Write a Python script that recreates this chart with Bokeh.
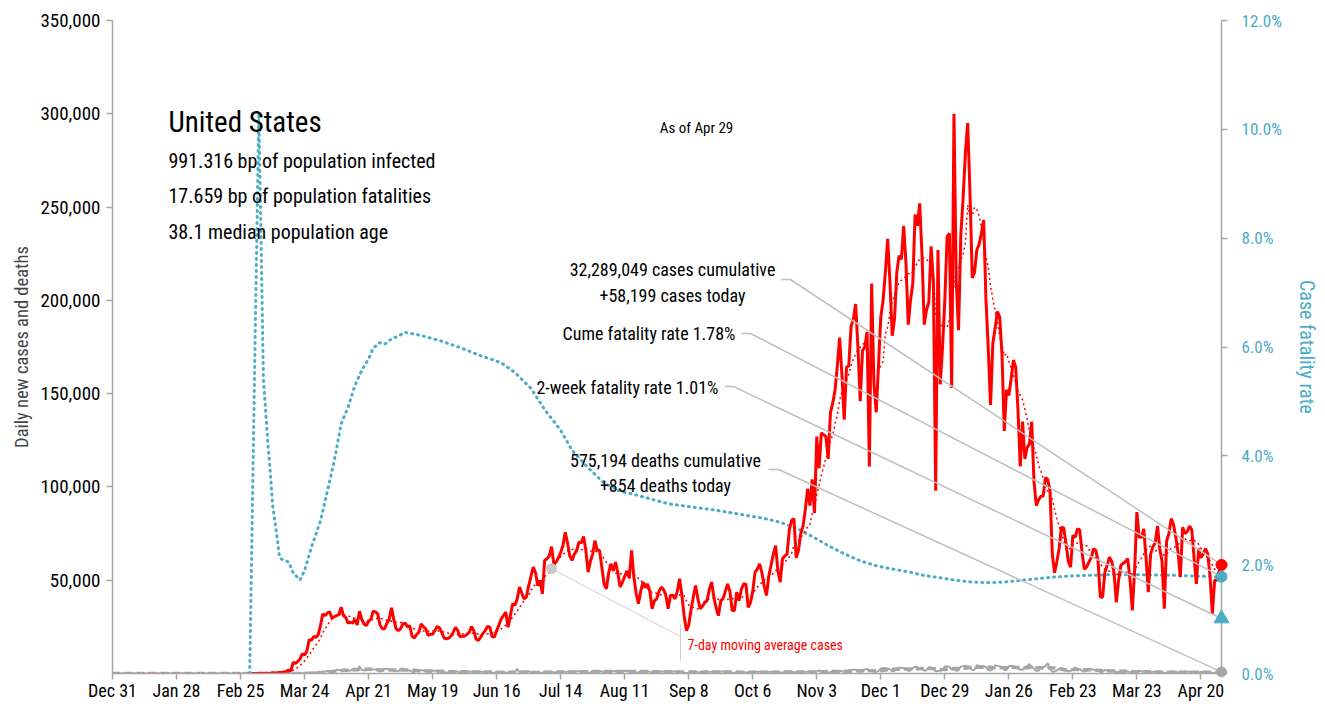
import pandas as pd
from bokeh.plotting import figure
from bokeh.models import Range1d, LinearAxis, FixedTicker, Label
from bokeh.embed import file_html
from bokeh.resources import INLINE

# ---------------- data ----------------
series_start = "2019-12-31"          # each row = 7 days, Tue..Mon
cases_rows = [
    [0, 0, 0, 0, 0, 0, 0], [0, 0, 0, 0, 0, 0, 0], [0, 0, 0, 0, 0, 0, 0],
    [0, 1, 0, 1, 0, 3, 0], [0, 0, 1, 0, 1, 0, 3], [0, 0, 0, 0, 0, 0, 0],
    [0, 1, 0, 1, 0, 0, 0], [0, 0, 0, 2, 0, 0, 0], [0, 1, 0, 0, 8, 6, 23],
    [20, 31, 68, 45, 140, 116, 65],
    [376, 322, 382, 516, 548, 772, 1133],
    [1789, 1362, 5894, 5423, 6389, 7787, 10571],
    [9893, 12038, 18058, 17821, 19821, 19408, 20922],
    [26000, 32000, 31000, 32500, 33000, 29500, 30500],
    [31000, 31500, 35500, 31000, 30000, 27000, 27500],
    [27000, 29000, 26000, 33400, 29000, 26500, 25700],
    [28000, 29000, 33400, 33000, 32000, 26000, 24000],
    [24000, 27000, 29000, 35200, 29000, 24000, 23000],
    [24000, 26600, 27000, 25000, 25500, 20000, 19000],
    [21000, 22000, 26600, 25000, 24000, 20400, 21000],
    [21000, 23000, 25200, 24500, 22000, 19000, 18600],
    [19000, 20000, 22000, 24800, 23000, 19600, 20000],
    [20000, 21000, 22000, 25200, 23000, 18500, 17700],
    [19500, 21500, 23000, 25200, 25000, 19800, 19500],
    [23000, 26000, 29300, 31000, 32900, 24800, 31000],
    [37400, 36600, 40000, 46300, 43000, 40000, 41000],
    [47000, 52000, 57000, 54000, 47000, 50000, 42700],
    [60600, 61500, 63000, 68000, 58800, 59700, 62000],
    [65000, 68600, 75700, 70000, 63000, 60600, 64000],
    [66000, 70400, 70000, 73400, 66000, 54300, 60000],
    [64000, 71300, 66000, 66000, 57000, 48000, 45400],
    [54000, 58800, 55000, 59700, 54000, 46300, 49000],
    [52000, 55000, 51000, 66000, 51800, 43000, 37400],
    [44000, 49000, 46000, 48000, 44000, 34700, 39000],
    [40000, 44000, 46300, 45000, 42000, 34700, 41800],
    [42000, 40000, 44000, 50800, 42000, 31000, 23000],
    [26000, 34000, 41000, 47200, 40000, 34700, 36000],
    [38000, 39000, 45000, 49000, 41000, 35000, 31000],
    [39000, 40000, 44000, 48000, 44000, 33800, 33800],
    [43600, 39000, 45000, 48000, 48000, 35500, 38000],
    [44000, 54300, 56000, 58800, 54000, 47000, 41800],
    [52000, 58000, 64000, 68600, 55000, 49000, 61500],
    [63000, 64000, 77000, 82000, 83000, 62000, 66000],
    [75000, 79000, 88000, 99000, 90000, 104000, 86000],
    [127000, 110000, 129000, 128000, 127000, 115000, 140000],
    [145000, 152000, 165000, 180000, 160000, 136000, 164000],
    [165000, 186000, 190000, 198000, 175000, 146000, 173000],
    [175000, 183000, 111000, 209000, 155000, 140000, 165000],
    [191000, 200000, 215000, 233000, 210000, 181000, 190000],
    [215000, 224000, 222000, 240000, 220000, 187000, 200000],
    [209000, 246000, 240000, 252000, 225000, 187000, 195000],
    [199000, 229000, 210000, 98000, 227000, 155000, 175000],
    [200000, 234000, 236000, 153000, 300000, 210000, 184000],
    [235000, 255000, 279000, 295000, 258000, 212000, 215000],
    [227000, 230000, 236000, 243000, 200000, 174000, 144000],
    [177000, 185000, 194000, 191000, 171000, 130000, 152000],
    [149000, 158000, 168000, 164000, 141000, 111000, 135000],
    [115000, 121000, 123000, 135000, 103000, 90000, 93000],
    [95000, 95000, 105000, 104000, 98000, 64000, 54000],
    [60000, 67000, 78400, 78000, 69500, 60000, 57000],
    [74000, 73000, 77500, 77000, 65000, 56000, 57000],
    [59700, 62000, 66800, 66000, 60600, 41000, 40900],
    [54300, 58000, 62400, 60000, 54000, 38200, 50000],
    [58000, 59000, 60000, 61500, 50000, 33800, 55000],
    [86500, 73000, 73000, 77500, 62000, 43600, 64000],
    [68000, 70000, 79000, 67000, 60000, 34700, 71000],
    [75000, 83000, 80000, 73000, 65000, 51600, 78400],
    [75000, 76000, 79000, 77000, 62000, 48000, 67000],
    [62000, 64000, 67000, 64000, 52000, 32000, 50000],
    [50000, 55000, 58199],
]
deaths_rows = [
    [0, 0, 0, 0, 0, 0, 0], [0, 0, 0, 0, 0, 0, 0], [0, 0, 0, 0, 0, 0, 0],
    [0, 0, 0, 0, 0, 0, 0], [0, 0, 0, 0, 0, 0, 0], [0, 0, 0, 0, 0, 0, 0],
    [0, 0, 0, 0, 0, 0, 0], [0, 0, 0, 0, 0, 0, 0], [0, 0, 0, 0, 1, 0, 5],
    [1, 4, 1, 2, 3, 2, 4],
    [6, 8, 7, 11, 8, 13, 19],
    [23, 40, 51, 61, 77, 111, 133],
    [198, 245, 278, 396, 523, 479, 563],
    [864, 968, 1140, 1319, 1226, 1298, 1172],
    [2008, 1884, 1901, 2089, 1885, 1549, 1534],
    [2304, 2530, 2171, 3800, 1894, 1735, 1580],
    [2676, 2318, 2211, 2080, 1823, 1121, 1348],
    [2404, 2610, 2029, 1912, 1696, 1290, 1178],
    [2375, 2646, 1952, 1733, 1596, 998, 842],
    [1663, 1763, 1770, 1614, 1264, 796, 850],
    [1602, 1493, 1296, 1221, 1068, 617, 568],
    [702, 1492, 1202, 1188, 926, 603, 731],
    [1053, 1003, 1024, 893, 679, 358, 622],
    [1003, 915, 848, 776, 701, 322, 385],
    [826, 770, 677, 714, 599, 277, 384],
    [811, 793, 2451, 646, 523, 275, 358],
    [1264, 690, 659, 258, 279, 257, 374],
    [1134, 1015, 1022, 829, 731, 468, 401],
    [924, 991, 980, 918, 918, 483, 537],
    [1141, 1206, 1123, 1172, 1032, 459, 534],
    [1442, 1453, 1395, 1287, 1077, 441, 568],
    [1349, 1343, 1256, 1315, 1118, 526, 536],
    [1499, 1370, 1096, 1278, 1047, 496, 467],
    [1338, 1362, 1121, 1135, 955, 476, 460],
    [1200, 1161, 1107, 1023, 862, 351, 451],
    [1095, 1038, 1047, 960, 707, 355, 266],
    [420, 1148, 948, 1163, 712, 370, 394],
    [1226, 1049, 872, 904, 738, 260, 455],
    [1104, 1083, 877, 890, 713, 280, 352],
    [907, 905, 851, 750, 688, 354, 436],
    [725, 919, 935, 952, 662, 375, 428],
    [805, 999, 869, 939, 740, 398, 470],
    [943, 1144, 847, 951, 830, 443, 525],
    [1008, 1055, 1001, 1002, 923, 431, 541],
    [1128, 1591, 1165, 1256, 1061, 501, 698],
    [1491, 1450, 1191, 1393, 1323, 677, 759],
    [1740, 1921, 2005, 1959, 1456, 879, 963],
    [2179, 2358, 1305, 1463, 1186, 851, 1279],
    [2631, 2846, 2890, 2654, 2309, 1132, 1432],
    [2673, 3142, 3036, 2953, 2386, 1421, 1572],
    [2936, 3554, 3384, 2883, 2587, 1457, 1783],
    [3334, 3102, 2734, 1140, 1406, 1426, 1852],
    [3695, 3814, 3466, 2137, 2469, 1476, 1873],
    [3751, 3939, 4176, 3818, 3367, 1902, 2070],
    [4467, 4001, 4068, 3879, 3387, 1870, 1561],
    [2569, 4385, 4095, 3864, 3411, 1926, 1940],
    [3921, 4115, 3956, 3561, 2658, 1952, 1950],
    [3456, 3933, 5067, 3679, 2696, 1309, 1571],
    [3184, 3322, 3917, 5559, 2493, 1061, 1000],
    [1700, 2521, 2546, 2691, 1835, 1219, 1450],
    [2298, 3210, 2369, 2302, 1587, 1031, 1421],
    [1946, 2449, 1988, 1715, 1473, 716, 728],
    [1926, 1512, 1495, 1629, 1196, 679, 744],
    [1244, 1230, 1467, 1004, 808, 454, 619],
    [1025, 1511, 1161, 931, 767, 317, 474],
    [904, 1003, 1053, 931, 420, 267, 559],
    [865, 1055, 888, 900, 693, 300, 418],
    [914, 879, 989, 748, 638, 307, 409],
    [858, 845, 827, 745, 584, 303, 324],
    [763, 939, 854],
]
cfr_dates = ["2020-02-29", "2020-03-04", "2020-03-06", "2020-03-08", "2020-03-09",
             "2020-03-10", "2020-03-12", "2020-03-13", "2020-03-14", "2020-03-17",
             "2020-03-19", "2020-03-22", "2020-03-24", "2020-03-27", "2020-03-31",
             "2020-04-03", "2020-04-06", "2020-04-09", "2020-04-12", "2020-04-15",
             "2020-04-18", "2020-04-21", "2020-04-23", "2020-04-26", "2020-04-28",
             "2020-05-01", "2020-05-04", "2020-05-07", "2020-05-14", "2020-05-22",
             "2020-05-31", "2020-06-09", "2020-06-18", "2020-06-24", "2020-07-01",
             "2020-07-07", "2020-07-14", "2020-07-19", "2020-07-26", "2020-08-02",
             "2020-08-09", "2020-08-16", "2020-08-23", "2020-08-30", "2020-09-06",
             "2020-09-13", "2020-09-20", "2020-09-27", "2020-10-04", "2020-10-11",
             "2020-10-18", "2020-10-25", "2020-11-01", "2020-11-08", "2020-11-15",
             "2020-11-22", "2020-11-29", "2020-12-06", "2020-12-13", "2020-12-20",
             "2020-12-27", "2021-01-03", "2021-01-10", "2021-01-17", "2021-01-24",
             "2021-01-31", "2021-02-07", "2021-02-14", "2021-02-21", "2021-02-28",
             "2021-03-07", "2021-03-14", "2021-03-21", "2021-03-28", "2021-04-04",
             "2021-04-11", "2021-04-18", "2021-04-25", "2021-04-29"]
cfr_pct = [0.0, 10.3, 5.4, 4.2, 3.7,
           3.1, 2.5, 2.15, 2.1, 2.05,
           1.85, 1.72, 1.89, 2.32, 2.81,
           3.36, 3.91, 4.59, 4.89, 5.29,
           5.57, 5.78, 5.98, 6.08, 6.05,
           6.15, 6.2, 6.27, 6.21, 6.12,
           5.99, 5.84, 5.71, 5.53, 5.24,
           4.85, 4.47, 4.1, 3.78, 3.5,
           3.35, 3.28, 3.2, 3.12, 3.08,
           3.04, 3.0, 2.95, 2.9, 2.85,
           2.78, 2.67, 2.52, 2.35, 2.2,
           2.07, 1.98, 1.92, 1.87, 1.8,
           1.76, 1.71, 1.68, 1.67, 1.68,
           1.71, 1.74, 1.77, 1.79, 1.8,
           1.81, 1.82, 1.82, 1.81, 1.81,
           1.80, 1.79, 1.78, 1.78]
tick_dates = ["2019-12-31", "2020-01-28", "2020-02-25", "2020-03-24", "2020-04-21",
              "2020-05-19", "2020-06-16", "2020-07-14", "2020-08-11", "2020-09-08",
              "2020-10-06", "2020-11-03", "2020-12-01", "2020-12-29", "2021-01-26",
              "2021-02-23", "2021-03-23", "2021-04-20"]
tick_labels = ["Dec 31", "Jan 28", "Feb 25", "Mar 24", "Apr 21", "May 19", "Jun 16",
               "Jul 14", "Aug 11", "Sep 8", "Oct 6", "Nov 3", "Dec 1", "Dec 29",
               "Jan 26", "Feb 23", "Mar 23", "Apr 20"]
left_ticks = [50000, 100000, 150000, 200000, 250000, 300000, 350000]
right_ticks = [0, 2, 4, 6, 8, 10, 12]
cases_today = 58199
cases_cum = 32289049
deaths_today = 854
deaths_cum = 575194
cfr_cume = 1.78
cfr_2wk = 1.01
bp_infected = 991.316
bp_fatal = 17.659
median_age = 38.1
as_of = "Apr 29"
ma_note_date = "2020-07-10"
solid_from = "2020-03-01"

# ---------------- derived ----------------
cases = [v for r in cases_rows for v in r]
deaths = [v for r in deaths_rows for v in r]
dates = pd.date_range(series_start, periods=len(cases), freq="D")
cases_s = pd.Series(cases, index=dates, dtype=float)
deaths_s = pd.Series(deaths, index=dates, dtype=float)
cases_ma = cases_s.rolling(7, min_periods=1).mean()
deaths_ma = deaths_s.rolling(7, min_periods=1).mean()
cases_solid = cases_s[cases_s.index >= solid_from]
last_date = dates[-1]

RED = "#FF0000"
BLUE = "#4BACC6"
GRAY = "#A6A6A6"
LEAD = "#BFBFBF"
FONT = "Liberation Sans Narrow, Arial Narrow, Roboto Condensed, Roboto, sans-serif"

x_start = pd.Timestamp(series_start)
x_end = last_date
YMAX = 350000.0
FR_L, FR_T, FR_W, FR_H = 112, 20, 1109, 653
ndays = (x_end - x_start).days


def ms(t):
    return pd.Timestamp(t).value / 1e6


def PX(px):
    # page pixel -> x data (ms); layout helper for annotations only
    return ms(x_start) + (px - FR_L) / FR_W * ndays * 86400000.0


def PY(py):
    return (FR_T + FR_H - py) / FR_H * YMAX


def pct_to_left(p):
    return p / 12.0 * YMAX


p = figure(frame_width=FR_W, frame_height=FR_H, x_axis_type="datetime",
           x_range=Range1d(x_start, x_end), y_range=Range1d(0, YMAX),
           output_backend="svg", toolbar_location=None,
           min_border_left=FR_L, min_border_top=FR_T,
           min_border_bottom=35, min_border_right=98)
p.extra_y_ranges = {"cfr": Range1d(0, 12)}
p.outline_line_color = None
p.xgrid.visible = False
p.ygrid.visible = False
p.background_fill_color = "white"

# axes
xa = p.xaxis[0]
xa.ticker = FixedTicker(ticks=[ms(d) for d in tick_dates])
xa.major_label_overrides = {ms(d): l for d, l in zip(tick_dates, tick_labels)}
ya = p.yaxis[0]
ya.ticker = FixedTicker(ticks=left_ticks)
ya.major_label_overrides = {t: f"{t:,}" for t in left_ticks}
ya.axis_label = "Daily new cases and deaths"
ra = LinearAxis(y_range_name="cfr", ticker=FixedTicker(ticks=right_ticks),
                axis_label="Case fatality rate")
ra.major_label_overrides = {t: f"{t:.1f}%" for t in right_ticks}
p.add_layout(ra, "right")
for ax in (xa, ya, ra):
    ax.axis_line_color = GRAY
    ax.axis_line_width = 1.5
    ax.major_tick_line_color = GRAY
    ax.major_tick_line_width = 1.5
    ax.major_tick_out = 6
    ax.major_tick_in = 0
    ax.minor_tick_line_color = None
    ax.major_label_text_font = FONT
    ax.major_label_text_font_size = "19px"
    ax.major_label_text_color = "#000000"
    ax.axis_label_text_font = FONT
    ax.axis_label_text_font_style = "normal"
xa.major_label_text_font_size = "18px"
xa.major_label_standoff = 0
ya.major_label_standoff = 6
ra.major_label_standoff = 14
ra.major_label_text_font_size = "17px"
ra.major_label_text_color = BLUE
ra.axis_label_text_color = BLUE
ya.axis_label_text_font_size = "18.5px"
ra.axis_label_text_font_size = "20px"
ya.axis_label_standoff = 4
ra.axis_label_standoff = 10

# series
p.line(dates, deaths_s.values, line_color=GRAY, line_width=2)
p.line(dates, deaths_ma.values, line_color=GRAY, line_width=3.5, line_dash="8 4")
p.line(pd.to_datetime(cfr_dates), cfr_pct, y_range_name="cfr",
       line_color=BLUE, line_width=3, line_dash="1 5", line_cap="round")
p.line(dates, cases_ma.values, line_color=RED, line_width=1.5, line_dash="2 3")
p.line(cases_solid.index, cases_solid.values, line_color=RED, line_width=3)

# leader lines
leaders = [
    ([PX(781), PX(790), ms(last_date)], [PY(279), PY(279), cases_today]),
    ([PX(741), PX(750), ms(last_date)], [PY(333), PY(333), pct_to_left(cfr_cume)]),
    ([PX(724), PX(733), ms(last_date)], [PY(386), PY(386), pct_to_left(cfr_2wk)]),
    ([PX(768), PX(778), ms(last_date)], [PY(469), PY(469), deaths_today]),
]
p.multi_line([l[0] for l in leaders], [l[1] for l in leaders], line_color=LEAD, line_width=1.5)

# end markers (overlay level so they are not cut at the frame edge)
p.scatter([last_date], [cases_today], size=11, color=RED, level="overlay")
p.scatter([last_date], [cfr_cume], y_range_name="cfr", size=11, color=BLUE, level="overlay")
p.scatter([last_date], [cfr_2wk], y_range_name="cfr", marker="triangle", size=15,
          color=BLUE, level="overlay")
p.scatter([last_date], [deaths_today], size=10, color=GRAY, level="overlay")

# moving-average note
nd = pd.Timestamp(ma_note_date)
p.line([ms(nd), PX(680)], [cases_ma[nd], PY(636)], line_color="#D0D0D0", line_width=1)
p.line([PX(680), PX(680)], [PY(624), PY(660)], line_color="#D0D0D0", line_width=1)
p.scatter([nd], [cases_ma[nd]], size=10, color="#C8C8C8")


def lab(px, py, text, size, color="#000000", align="left"):
    p.add_layout(Label(x=PX(px), y=PY(py), text=text, text_font=FONT,
                       text_font_size=size, text_color=color, text_align=align,
                       text_baseline="middle"))


lab(687, 644, "7-day moving average cases", "14px", RED)
lab(696, 127, f"As of {as_of}", "15px", "#000000", "center")
lab(168, 121, "United States", "29px")
lab(168, 160, f"{bp_infected:.3f} bp of population infected", "20px")
lab(168, 195, f"{bp_fatal:.3f} bp of population fatalities", "20px")
lab(168, 231, f"{median_age:.1f} median population age", "20px")
lab(672, 269, f"{cases_cum:,} cases cumulative", "18px", align="center")
lab(672, 295, f"+{cases_today:,} cases today", "18px", align="center")
lab(735, 333, f"Cume fatality rate {cfr_cume:.2f}%", "18px", align="right")
lab(718, 387, f"2-week fatality rate {cfr_2wk:.2f}%", "18px", align="right")
lab(665, 460, f"{deaths_cum:,} deaths cumulative", "18px", align="center")
lab(665, 485, f"+{deaths_today:,} deaths today", "18px", align="center")

open("out.html", "w").write(file_html(p, INLINE))
